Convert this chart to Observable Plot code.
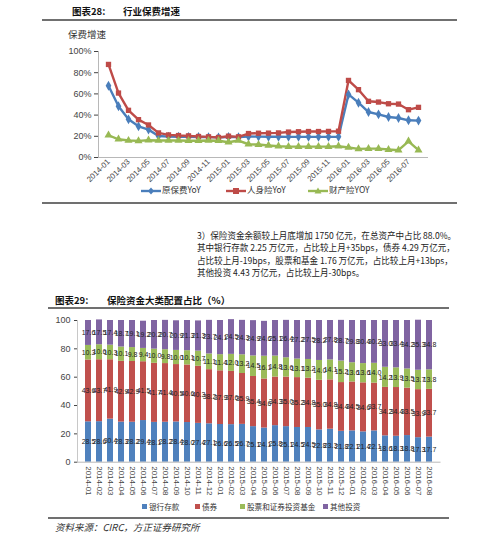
<!DOCTYPE html>
<html><head><meta charset="utf-8">
<script src="https://cdn.jsdelivr.net/npm/d3@7"></script>
<script src="https://cdn.jsdelivr.net/npm/@observablehq/plot@0.6"></script>
<style>
body{margin:0;background:#fff;}
#page{position:relative;width:499px;height:540px;overflow:hidden;font-family:'Noto Sans CJK SC',sans-serif;color:#222;background:#fff;}
.abs{position:absolute;white-space:nowrap;line-height:1;}
.hline{position:absolute;height:2px;background:#707070;}
.hd{font-weight:bold;font-size:9.5px;color:#111;}
.para{font-size:9px;color:#222;transform:scaleX(0.95);transform-origin:0 0;}
.lg{font-size:8.5px;color:#333;font-family:'Noto Sans CJK SC','Liberation Sans',sans-serif;}
.lg2{font-size:7.6px;color:#333;font-family:'Noto Sans CJK SC','Liberation Sans',sans-serif;}
.chart{position:absolute;}
</style></head>
<body><div id="page"></div>
<script>
// ---------- data ----------
const months = ["2014-01","2014-02","2014-03","2014-04","2014-05","2014-06","2014-07","2014-08","2014-09","2014-10","2014-11","2014-12",
  "2015-01","2015-02","2015-03","2015-04","2015-05","2015-06","2015-07","2015-08","2015-09","2015-10","2015-11","2015-12",
  "2016-01","2016-02","2016-03","2016-04","2016-05","2016-06","2016-07","2016-08"];
const lineTicks = ["2014-01","2014-03","2014-05","2014-07","2014-09","2014-11","2015-01","2015-03","2015-05","2015-07","2015-09","2015-11","2016-01","2016-03","2016-05","2016-07"];
const lineSeries = ["原保费YoY","人身险YoY","财产险YOY"];
const premiumYoY = [67.7,48.3,36.0,29.4,26.3,20.3,19.7,19.6,19.5,19.3,19.2,19.0,19.4,19.2,19.8,19.7,19.6,19.6,19.5,19.5,19.5,19.5,19.5,19.6,59.5,51.7,42.9,40.7,38.2,37.3,35.1,34.8];
const lifeYoY    = [87.8,60.8,44.5,35.7,30.7,23.2,21.3,20.7,20.4,19.8,19.5,18.9,20.1,19.5,22.6,22.9,23.0,23.2,24.0,24.3,24.5,24.5,24.6,24.8,72.7,64.0,53.0,52.3,50.7,50.4,45.1,47.3];
const propYoY    = [21.0,17.2,16.0,15.7,16.3,16.0,16.0,16.0,15.8,15.8,16.0,15.8,14.4,16.0,12.5,12.2,11.3,10.6,10.3,10.3,10.3,10.3,10.3,10.6,9.4,8.1,8.4,8.4,7.5,6.9,15.3,6.9];
const lineYTicks = [0,20,40,60,80,100];

const barSeries = ["银行存款","债券","股票和证券投资基金","其他投资"];
const bank   = [28.5,28.6,30.4,28.3,28.2,29.4,28.1,28.2,28.4,28.0,27.4,27.1,26.6,26.5,26.7,25.1,24.1,25.8,25.1,24.5,24.5,22.8,23.3,21.8,22.1,21.4,22.1,18.6,18.3,18.8,17.3,17.7];
const bonds  = [43.6,43.7,41.9,42.9,42.9,41.5,41.7,41.4,40.5,40.6,40.3,38.2,37.9,37.6,35.9,35.4,34.6,34.3,35.0,35.2,34.8,35.0,34.8,34.4,34.5,34.6,33.7,34.2,34.4,33.5,33.9,33.7];
const stocks = [10.3,10.6,10.3,10.1,9.8,9.4,10.0,9.8,10.0,10.1,10.7,11.1,11.4,12.0,13.2,14.5,16.1,14.8,13.6,13.1,13.2,14.0,14.1,15.2,13.6,13.6,14.0,14.2,13.9,13.5,13.7,13.8];
const others = [17.6,17.5,17.4,18.7,19.1,19.2,20.2,20.7,20.9,21.3,21.3,23.7,24.1,24.5,24.3,24.9,24.6,25.1,26.4,27.2,27.5,28.2,27.8,28.7,29.8,30.4,30.2,33.0,33.4,34.2,35.3,34.8];
const barYTicks = [0,20,40,60,80,100];

const lineColors = ["#4A7EBB","#BE4B48","#98B954"];
const lineSymbols = ["diamond","square","triangle"];
const barColors = ["#4F81BD","#C0504D","#9BBB59","#8064A2"];

// ---------- page ----------
const page = document.getElementById("page");
function add(html, cls, left, top, extra="") {
  const d = document.createElement("div");
  d.className = "abs " + cls;
  d.style.left = left + "px"; d.style.top = top + "px";
  if (extra) d.style.cssText += extra;
  d.innerHTML = html;
  page.appendChild(d);
  return d;
}
function hline(x1, x2, y) {
  const d = document.createElement("div");
  d.className = "hline";
  d.style.left = x1 + "px"; d.style.width = (x2 - x1) + "px"; d.style.top = y + "px";
  page.appendChild(d);
}

// header 1
add("图表28:", "hd", 72, 7);
add("行业保费增速", "hd", 123, 7);
hline(42, 457, 19);
add("保费增速", "", 68, 30, "font-size:9.5px;color:#333;");

// line chart
const lineVals = [premiumYoY, lifeYoY, propYoY];
const lineRows = [];
lineSeries.forEach((s, k) => months.forEach((m, i) => lineRows.push({month: m, series: s, value: lineVals[k][i]})));

const chart1 = Plot.plot({
  width: 499, height: 150,
  marginLeft: 98, marginRight: 71, marginTop: 11, marginBottom: 33,
  style: {fontFamily: "'Liberation Sans','Noto Sans CJK SC',sans-serif", fontSize: "9px", color: "#444", background: "transparent", overflow: "visible"},
  x: {type: "point", domain: months, padding: 0.5, ticks: lineTicks, tickRotate: -45, tickSize: 0, tickPadding: 3, label: null},
  y: {domain: [0, 100], ticks: lineYTicks, tickFormat: d => d + "%", tickSize: 4, tickPadding: 3, label: null},
  color: {domain: lineSeries, range: lineColors},
  symbol: {domain: lineSeries, range: lineSymbols},
  marks: [
    Plot.frame({anchor: "left", stroke: "#b8b8b8"}),
    Plot.ruleY([0], {stroke: "#b8b8b8"}),
    Plot.line(lineRows, {x: "month", y: "value", z: "series", stroke: "series", strokeWidth: 2.4}),
    Plot.dot(lineRows, {x: "month", y: "value", fill: "series", symbol: "series", r: 3})
  ]
});
chart1.classList.add("chart");
chart1.style.left = "0px"; chart1.style.top = "40px";
page.appendChild(chart1);
chart1.querySelectorAll('[aria-label="x-axis tick label"] text').forEach(t => t.setAttribute("font-size", "7.8"));

// line legend
function lineSwatch(color, sym) {
  let m = "";
  if (sym === "diamond") m = `<path d="M10,1.5 L13,5 L10,8.5 L7,5Z" fill="${color}"/>`;
  if (sym === "square") m = `<rect x="7" y="2" width="6" height="6" fill="${color}"/>`;
  if (sym === "triangle") m = `<path d="M10,1.5 L13.5,7.5 L6.5,7.5Z" fill="${color}"/>`;
  return `<svg width="20" height="10" style="vertical-align:middle;margin-right:1px"><line x1="0" y1="5" x2="20" y2="5" stroke="${color}" stroke-width="2.4"/>${m}</svg>`;
}
add(lineSwatch(lineColors[0], "diamond") + lineSeries[0], "lg", 141, 185);
add(lineSwatch(lineColors[1], "square") + lineSeries[1], "lg", 226, 185);
add(lineSwatch(lineColors[2], "triangle") + lineSeries[2], "lg", 308, 185);
hline(42, 457, 202);

// paragraph
const paraLines = [
  "3）保险资金余额较上月底增加 1750 亿元，在总资产中占比 88.0%。",
  "其中银行存款 2.25 万亿元，占比较上月+35bps，债券 4.29 万亿元，",
  "占比较上月-19bps，股票和基金 1.76 万亿元，占比较上月+13bps，",
  "其他投资 4.43 万亿元，占比较上月-30bps。"
];
paraLines.forEach((t, i) => add(t, "para", 197, 231 + i * 12.4));

// header 2
add("图表29:", "hd", 55, 296);
add("保险资金大类配置占比（%）", "hd", 107, 296);
hline(48, 449, 307);

// bar chart
const barVals = [bank, bonds, stocks, others];
const barRows = [];
months.forEach((m, i) => barSeries.forEach((s, k) => barRows.push({month: m, series: s, value: barVals[k][i]})));

const chart2 = Plot.plot({
  width: 499, height: 190,
  marginLeft: 77, marginRight: 58.5, marginTop: 10, marginBottom: 38.3,
  style: {fontFamily: "'Liberation Sans','Noto Sans CJK SC',sans-serif", fontSize: "8px", color: "#444", background: "transparent", overflow: "visible"},
  x: {type: "band", domain: months, paddingInner: 0.47, paddingOuter: 0.235, tickRotate: 90, tickSize: 0, tickPadding: 4, label: null},
  y: {domain: [0, 100], ticks: barYTicks, tickSize: 3, tickPadding: 4, label: null},
  color: {domain: barSeries, range: barColors},
  marks: [
    Plot.barY(barRows, Plot.stackY({x: "month", y: "value", fill: "series"})),
    Plot.frame({anchor: "left", stroke: "#c8c8c8"}),
    Plot.ruleY([0], {stroke: "#b8b8b8"}),
    Plot.text(barRows, Plot.stackY({x: "month", y: "value", z: "series", text: d => d.value.toFixed(1), fill: "#222", fontSize: 7, letterSpacing: -0.3}))
  ]
});
chart2.classList.add("chart");
chart2.style.left = "0px"; chart2.style.top = "310px";
page.appendChild(chart2);
chart2.querySelectorAll('[aria-label="y-axis tick label"] text').forEach(t => t.setAttribute("font-size", "9"));

// bar legend
function sq(c) { return `<span style="display:inline-block;width:5px;height:5px;background:${c};margin-right:2px;vertical-align:middle;position:relative;top:-1px"></span>`; }
add(sq(barColors[0]) + barSeries[0], "lg2", 142, 503);
add(sq(barColors[1]) + barSeries[1], "lg2", 195, 503);
add(sq(barColors[2]) + barSeries[2], "lg2", 240, 503);
add(sq(barColors[3]) + barSeries[3], "lg2", 323, 503);
hline(48, 449, 517);

// source
add("资料来源：CIRC，方正证券研究所", "", 55, 523, "font-size:9.5px;font-style:italic;color:#333;font-family:'Noto Sans CJK SC','Liberation Serif',serif;");
</script>
</body></html>
